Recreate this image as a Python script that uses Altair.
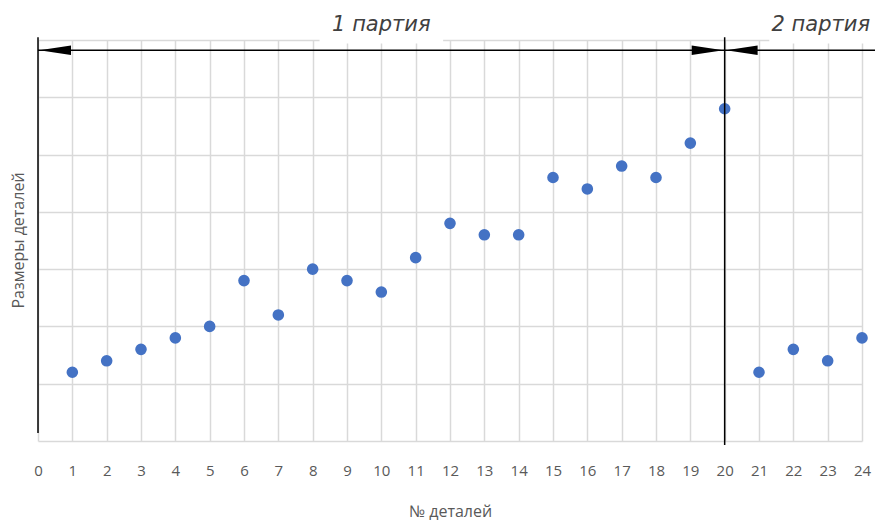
import altair as alt
import pandas as pd

# ---- data ----
detail_no = list(range(1, 25))
sizes = [12, 14, 16, 18, 20, 28, 22, 30, 28, 26, 32, 38, 36, 36,
         46, 44, 48, 46, 52, 58, 12, 16, 14, 18]

batch_labels = ["1 партия", "2 партия"]
batch_label_x = [10.0, 22.8]
batch_label_y = [72.6, 72.6]

# white boxes behind the batch labels (hide gridline)
box_x = [8.2, 21.3]
box_x2 = [11.8, 24.6]
box_y = [69.4, 69.4]
box_y2 = [71.0, 71.0]

# vertical separators: y-axis line and batch boundary
sep_x = [0, 20]
sep_y = [70.5, 70.5]
sep_y2 = [1.4, -0.7]

# horizontal dimension line
dim_x = [0]
dim_x2 = [24.7]
dim_y = [68.2]

# arrowheads
arrow_x = [0.5, 19.5, 20.5]
arrow_dir = ["left", "right", "left"]
arrow_y = [68.2, 68.2, 68.2]

x_ticks = list(range(0, 25))
y_grid = [0, 10, 20, 30, 40, 50, 60, 70]

points = pd.DataFrame({"n": detail_no, "v": sizes})
labels_df = pd.DataFrame({"t": batch_labels, "x": batch_label_x, "y": batch_label_y})
boxes_df = pd.DataFrame({"x": box_x, "x2": box_x2, "y": box_y, "y2": box_y2})
seps_df = pd.DataFrame({"x": sep_x, "y": sep_y, "y2": sep_y2})
dim_df = pd.DataFrame({"x": dim_x, "x2": dim_x2, "y": dim_y})
arrows_df = pd.DataFrame({"x": arrow_x, "d": arrow_dir, "y": arrow_y})

xscale = alt.Scale(domain=[0, 24], nice=False)
yscale = alt.Scale(domain=[0, 70], nice=False)

xaxis = alt.Axis(values=x_ticks, tickCount=25, grid=True, gridColor="#d9d9d9", gridWidth=1.5,
                 domain=False, ticks=False, labelColor="#595959", labelFontSize=15,
                 labelFont="Open Sans", labelPadding=22, labelOverlap=False,
                 title="№ деталей",
                 titleColor="#595959", titleFontSize=16, titleFont="Open Sans",
                 titleFontWeight="normal", titlePadding=25, labelFlush=False)
yaxis = alt.Axis(values=y_grid, grid=True, gridColor="#d9d9d9", gridWidth=1.5,
                 domain=False, ticks=False, labels=False, title="Размеры деталей",
                 titleColor="#595959", titleFontSize=16, titleFont="Open Sans",
                 titleFontWeight="normal", titleX=-20, titleY=200,
                 titleAngle=-90, titleAlign="center", titleBaseline="middle")

base_pts = alt.Chart(points).mark_circle(size=135, color="#4472C4", opacity=1).encode(
    x=alt.X("n:Q", scale=xscale, axis=xaxis),
    y=alt.Y("v:Q", scale=yscale, axis=yaxis),
)

boxes = alt.Chart(boxes_df).mark_rect(color="white", clip=False).encode(
    x=alt.X("x:Q", scale=xscale), x2="x2:Q",
    y=alt.Y("y:Q", scale=yscale), y2="y2:Q",
)

texts = alt.Chart(labels_df).mark_text(
    font="DejaVu Sans", fontStyle="italic", fontSize=21, color="#404040",
    align="center", baseline="middle", clip=False
).encode(
    x=alt.X("x:Q", scale=xscale), y=alt.Y("y:Q", scale=yscale), text="t:N"
)

seps = alt.Chart(seps_df).mark_rule(color="black", strokeWidth=1.5, clip=False).encode(
    x=alt.X("x:Q", scale=xscale),
    y=alt.Y("y:Q", scale=yscale), y2="y2:Q",
)

dim = alt.Chart(dim_df).mark_rule(color="black", strokeWidth=1.5, clip=False).encode(
    x=alt.X("x:Q", scale=xscale), x2="x2:Q",
    y=alt.Y("y:Q", scale=yscale),
)

arrows = alt.Chart(arrows_df).mark_point(filled=True, color="black", opacity=1,
                                          size=1000, clip=False).encode(
    x=alt.X("x:Q", scale=xscale),
    y=alt.Y("y:Q", scale=yscale),
    shape=alt.Shape("d:N", scale=alt.Scale(
        domain=["left", "right"],
        range=["M-1,0 L1,-0.3 L1,0.3 Z", "M1,0 L-1,-0.3 L-1,0.3 Z"]), legend=None),
)

chart = alt.layer(base_pts, boxes, texts, seps, dim, arrows).properties(
    width=824, height=401,
    autosize=alt.AutoSizeParams(type="none"),
    padding={"left": 30, "top": 32, "right": 13, "bottom": 79},
).configure_view(stroke=None)

chart.save("out.html", embed_options={"renderer": "svg", "actions": False})
